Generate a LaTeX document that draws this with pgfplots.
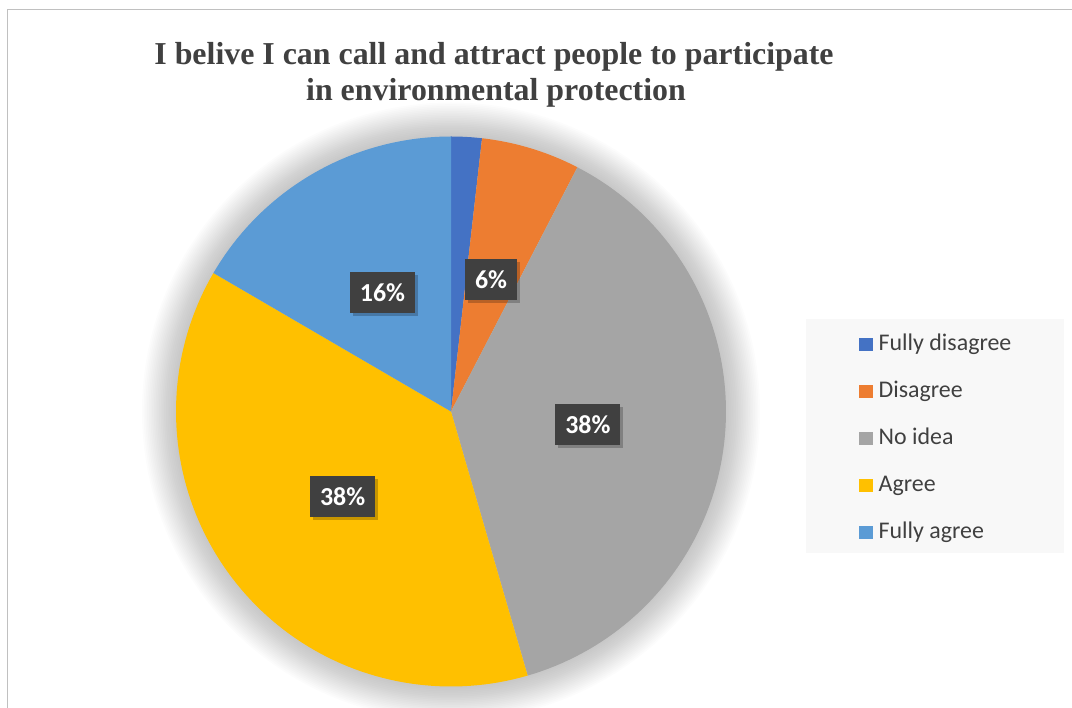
\documentclass[border=0pt]{standalone}
\usepackage{pgfplots}
\usepackage{pgfplotstable}
\pgfplotsset{compat=1.18}
\usepackage{fontspec}
\setmainfont{Liberation Serif}
\newfontfamily\carlito{Carlito}
\definecolor{cFD}{HTML}{4472C4}
\definecolor{cD}{HTML}{ED7D31}
\definecolor{cN}{HTML}{A5A5A5}
\definecolor{cA}{HTML}{FFC000}
\definecolor{cFA}{HTML}{5B9BD5}
\definecolor{txt}{HTML}{404040}
\definecolor{legbg}{HTML}{F8F8F8}
\definecolor{framecol}{HTML}{C0C0C0}
\definecolor{lblfill}{HTML}{404040}

\pgfplotstableread[col sep=comma]{
name,value,color,label
Fully disagree,1.8,cFD,0
Disagree,5.8,cD,6
No idea,37.9,cN,38
Agree,37.9,cA,38
Fully agree,16.6,cFA,16
}\piedata

\tikzset{lblbox/.style={fill=lblfill, text=white, font=\carlito\bfseries\fontsize{26}{30}\selectfont,
  inner xsep=10bp, inner ysep=0pt, minimum height=41bp, text height=18bp, text depth=0bp}}

\begin{document}
\begin{tikzpicture}
\begin{axis}[at={(0,0)}, anchor=south west, scale only axis,
  width=1072bp, height=708bp, xmin=0, xmax=1072, ymin=0, ymax=708,
  hide axis, clip=false,
  legend style={at={(axis cs:806,389)}, anchor=north west, fill=legbg, draw=none,
    font=\carlito\fontsize{24}{28}\selectfont, text=txt,
    inner xsep=53bp, inner ysep=13bp, row sep=27bp,
    nodes={inner sep=0pt, text height=18.5bp, text depth=1.5bp}},
  legend cell align=left,
  legend image code/.code={\fill[#1] (0bp,-9bp) rectangle (13.5bp,4.5bp); \path (19.5bp,0bp);}]

% frame
\draw[framecol, line width=1.5bp] (axis cs:7.5,0) -- (axis cs:7.5,698.5) -- (axis cs:1072,698.5);

% soft shadow around the pie
\pgfplotsinvokeforeach{1,...,20}{
  \fill[black, opacity=0.0115] (axis cs:451,296.5) circle[radius={275bp+1.7bp*#1}];
}

% slices
\def\cum{0}
\pgfplotsforeachungrouped \i in {0,...,4}{%
  \pgfplotstablegetelem{\i}{value}\of\piedata \let\val\pgfplotsretval
  \pgfplotstablegetelem{\i}{color}\of\piedata \let\slicecol\pgfplotsretval
  \pgfmathsetmacro\sa{90-3.6*\cum}%
  \pgfmathsetmacro\ea{90-3.6*(\cum+\val)}%
  \pgfmathsetmacro\cum{\cum+\val}%
  \edef\tmp{\noexpand\addplot[fill=\slicecol, draw=none, domain=\ea:\sa, samples=90, forget plot]
    ({451+275*cos(x)},{296.5+275*sin(x)}) -- (axis cs:451,296.5) -- cycle;}%
  \tmp
}

% labels
\def\cum{0}
\pgfplotsforeachungrouped \i in {0,...,4}{%
  \pgfplotstablegetelem{\i}{value}\of\piedata \let\val\pgfplotsretval
  \pgfplotstablegetelem{\i}{label}\of\piedata \let\lab\pgfplotsretval
  \pgfmathsetmacro\ma{90-3.6*(\cum+\val/2)}%
  \pgfmathsetmacro\lx{451+137.5*cos(\ma)}%
  \pgfmathsetmacro\ly{296.5+137.5*sin(\ma)}%
  \pgfmathsetmacro\cum{\cum+\val}%
  \ifnum\lab>0
    \edef\tmp{\noexpand\node[lblbox, fill=black, fill opacity=0.22, xshift=3bp, yshift=-3bp] at (axis cs:\lx,\ly) {\noexpand\phantom{\lab\noexpand\%}};
      \noexpand\node[lblbox] at (axis cs:\lx,\ly) {\lab\noexpand\%};}%
    \tmp
  \fi
}

% title
\node[anchor=base, font=\bfseries\fontsize{32}{37}\selectfont, text=txt, inner sep=0pt]
  at (axis cs:494,643.5) {I belive I can call and attract people to participate};
\node[anchor=base, font=\bfseries\fontsize{32}{37}\selectfont, text=txt, inner sep=0pt]
  at (axis cs:496,607) {in environmental protection};

% legend
\addlegendimage{fill=cFD, draw=none}\addlegendentry{Fully disagree}
\addlegendimage{fill=cD, draw=none}\addlegendentry{Disagree}
\addlegendimage{fill=cN, draw=none}\addlegendentry{No idea}
\addlegendimage{fill=cA, draw=none}\addlegendentry{Agree}
\addlegendimage{fill=cFA, draw=none}\addlegendentry{Fully agree}
\end{axis}
\pgfresetboundingbox
\useasboundingbox (0,0) rectangle (1072bp,708bp);
\end{tikzpicture}
\end{document}
